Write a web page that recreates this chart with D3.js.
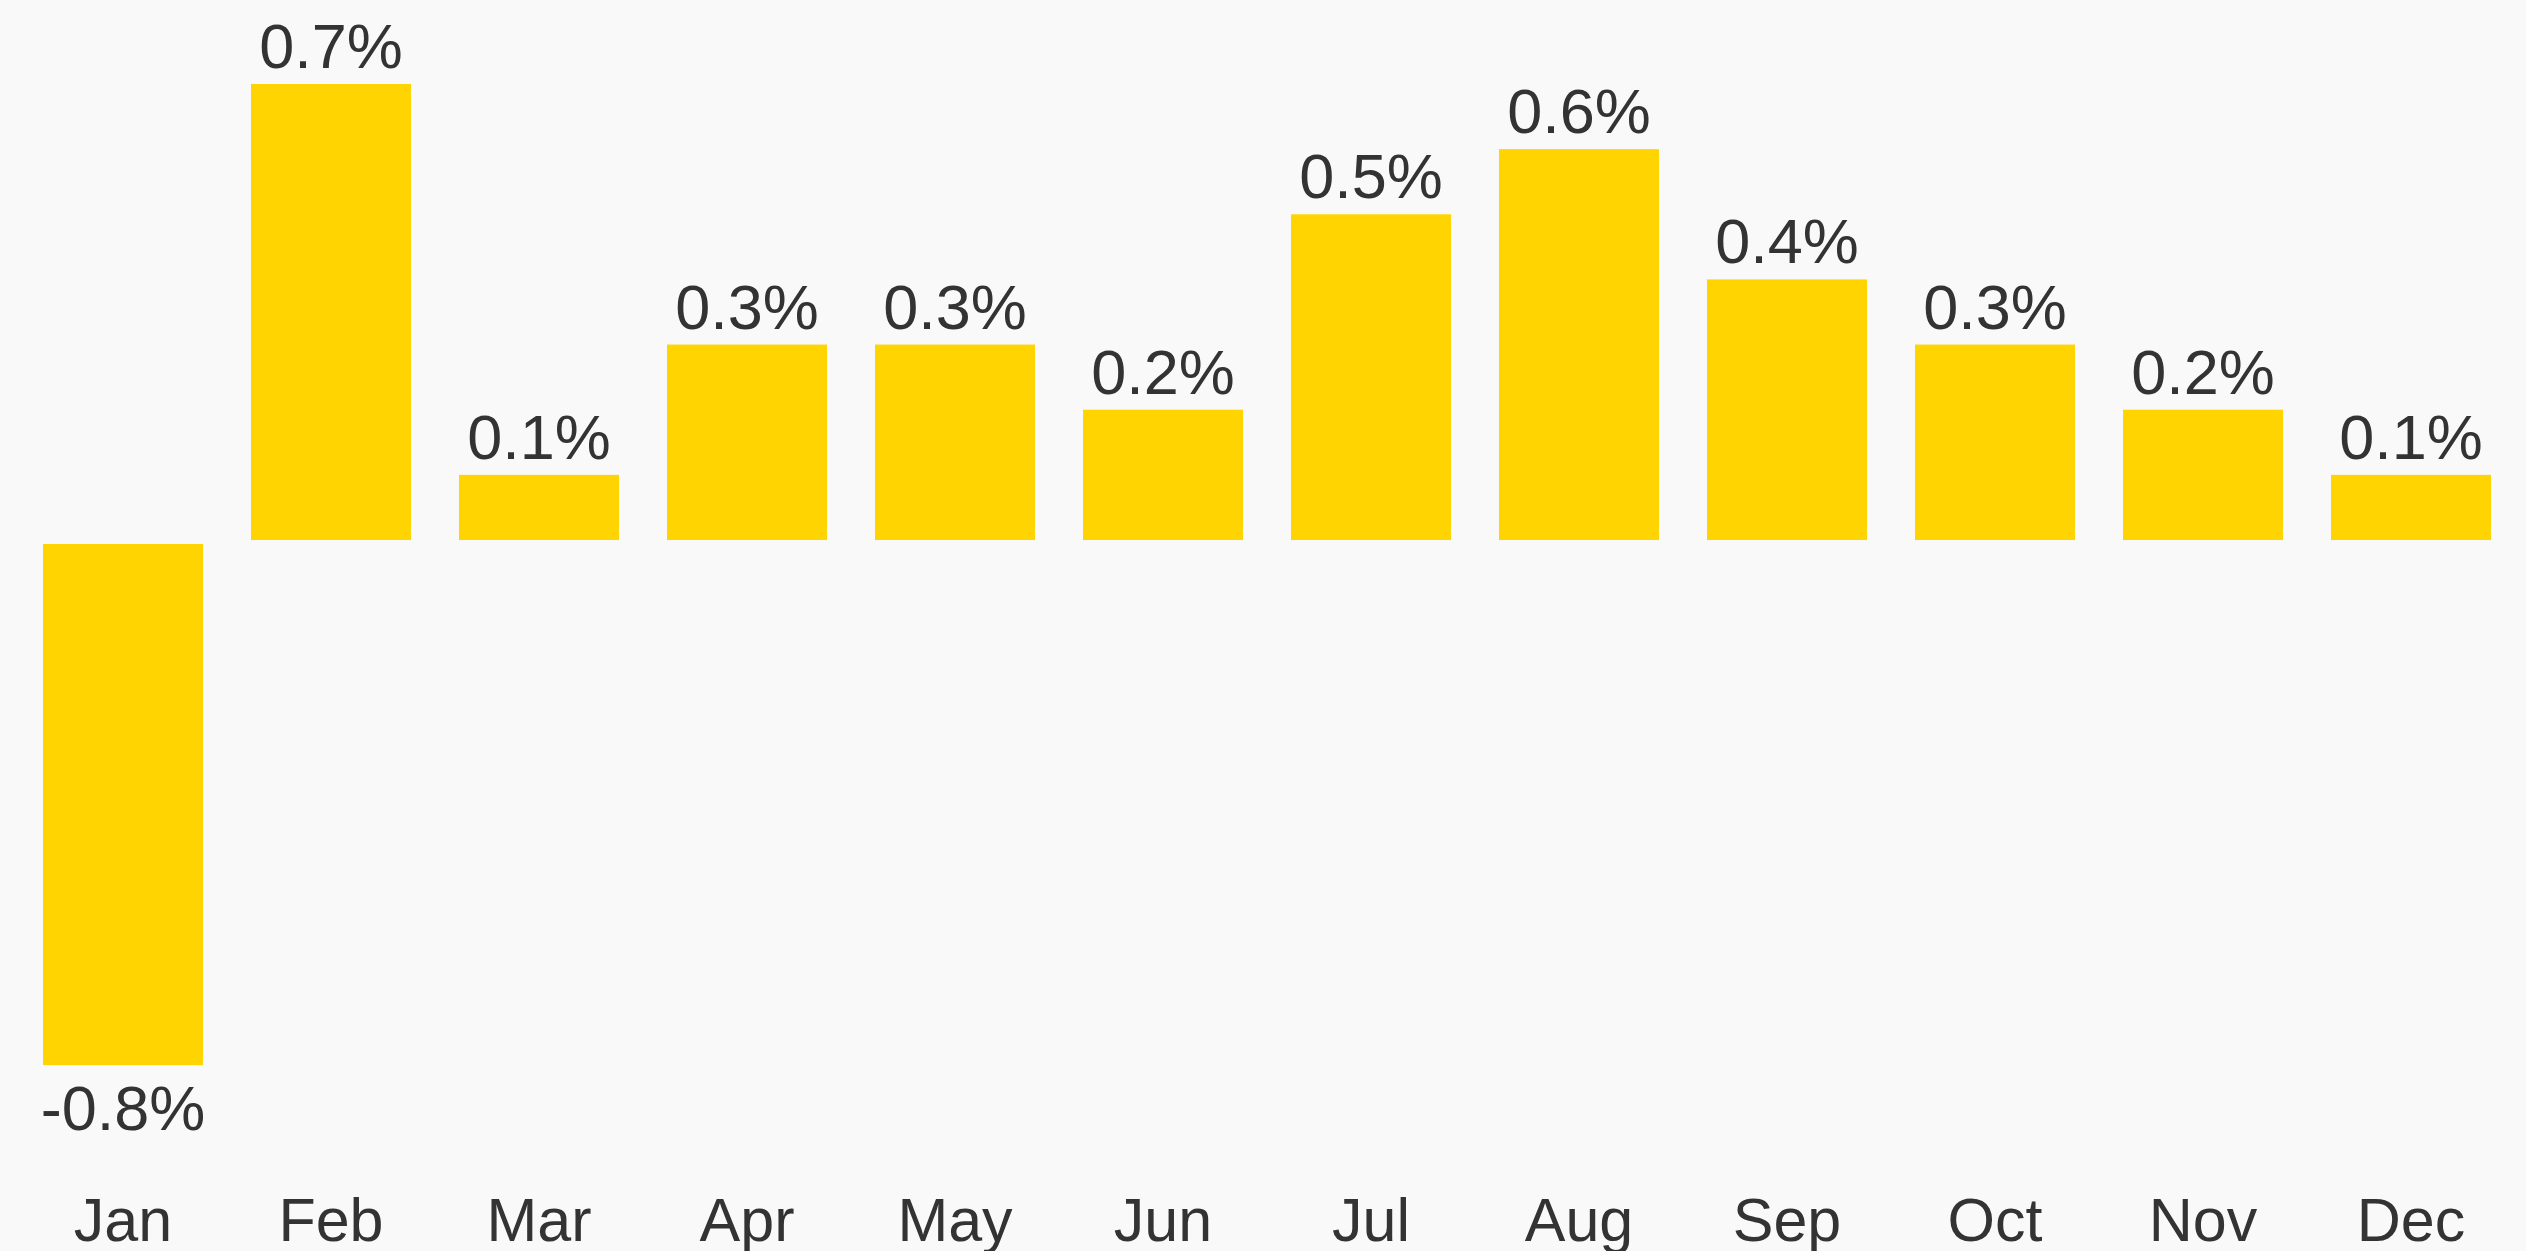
<!DOCTYPE html>
<html>
<head>
<meta charset="utf-8">
<script src="https://cdn.jsdelivr.net/npm/d3@7"></script>
<style>
  html, body { margin: 0; padding: 0; background: #f9f9f9; overflow: hidden; }
  svg { display: block; }
</style>
</head>
<body>
<svg id="chart" width="2526" height="1251"></svg>
<script>
const months = ["Jan","Feb","Mar","Apr","May","Jun","Jul","Aug","Sep","Oct","Nov","Dec"];
const values = [-0.8, 0.7, 0.1, 0.3, 0.3, 0.2, 0.5, 0.6, 0.4, 0.3, 0.2, 0.1];

const W = 2526, H = 1251;
const svg = d3.select("#chart");
svg.append("rect").attr("width", W).attr("height", H).attr("fill", "#f9f9f9");

const pad = 48 / 208;
const x = d3.scaleBand().domain(months).range([19, 2515]).paddingInner(pad).paddingOuter(pad / 2);
const y = d3.scaleLinear().domain([0, 0.7]).range([540, 84]);
const gap = 4; // gap between zero line and negative bars

const fontFam = "'Liberation Sans', Arial, Helvetica, sans-serif";
const textColor = "#333333";

const g = svg.append("g");

g.selectAll("rect.bar").data(values).join("rect")
  .attr("class", "bar")
  .attr("x", (d, i) => x(months[i]))
  .attr("width", x.bandwidth())
  .attr("y", d => d >= 0 ? y(d) : y(0) + gap)
  .attr("height", d => Math.abs(y(d) - y(0)))
  .attr("fill", "#FFD400");

g.selectAll("text.val").data(values).join("text")
  .attr("class", "val")
  .attr("x", (d, i) => x(months[i]) + x.bandwidth() / 2)
  .attr("y", d => d >= 0 ? y(d) - 16 : y(d) + gap + 65)
  .attr("text-anchor", "middle")
  .attr("font-family", fontFam)
  .attr("font-size", 63)
  .attr("fill", textColor)
  .text(d => d3.format(".1f")(d).replace("−", "-") + "%");

const xAxis = d3.axisBottom(x).tickSize(0).tickPadding(0);
const ax = svg.append("g").attr("transform", "translate(0,1241)").call(xAxis);
ax.select(".domain").remove();
ax.selectAll("text")
  .attr("dy", 0)
  .attr("y", 0)
  .attr("font-family", fontFam)
  .attr("font-size", 61)
  .attr("fill", textColor);
</script>
</body>
</html>
